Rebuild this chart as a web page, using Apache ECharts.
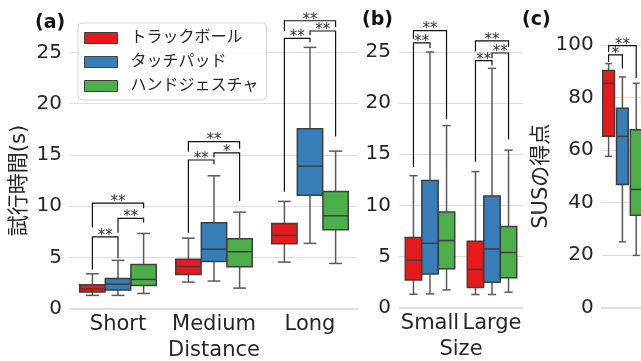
<!DOCTYPE html>
<html><head><meta charset="utf-8">
<script src="https://cdn.jsdelivr.net/npm/echarts@6/dist/echarts.min.js"></script>
<style>html,body{margin:0;padding:0;background:#fff}#c{width:641px;height:361px}</style>
</head><body><div id="c"></div>
<script>
// ---------- data ----------
const devices = ['トラックボール', 'タッチパッド', 'ハンドジェスチャ'];
const distanceCats = ['Short', 'Medium', 'Long'];
const sizeCats = ['Small', 'Large'];
const susCats = [''];
const timeTicks = [0, 5, 10, 15, 20, 25];
const susTicks = [0, 20, 40, 60, 80, 100];
// each box: [whiskerLow, Q1, median, Q3, whiskerHigh]
const distTrackball = [[1.28, 1.6, 1.9, 2.32, 3.39], [2.58, 3.33, 4.1, 4.8, 6.87], [4.53, 6.32, 7.14, 8.31, 10.46]];
const distTouchpad  = [[1.28, 1.8, 2.38, 2.93, 4.7], [2.68, 4.6, 5.8, 8.37, 12.96], [6.36, 11.07, 13.9, 17.55, 25.5]];
const distGesture   = [[1.47, 2.25, 2.84, 4.3, 7.33], [1.99, 4.07, 5.54, 6.81, 9.41], [4.4, 7.7, 9.05, 11.43, 15.37]];
const sizeTrackball = [[1.3, 2.7, 4.63, 6.85, 12.9], [1.27, 1.96, 3.72, 6.48, 13.3]];
const sizeTouchpad  = [[1.33, 3.29, 6.29, 12.42, 25.0], [1.27, 2.47, 5.73, 10.92, 23.4]];
const sizeGesture   = [[1.72, 3.78, 6.55, 9.35, 17.8], [1.5, 2.9, 5.38, 7.92, 15.39]];
const susTrackball  = [[57.6, 65.2, 85.4, 90.3, 92.9]];
const susTouchpad   = [[25.1, 46.9, 65.2, 75.9, 87.8]];
const susGesture    = [[19.9, 35.2, 45.0, 67.7, 85.4]];
// significance brackets: [category, fromDevice, toDevice, barLevel, leftLegEnd, rightLegEnd]
const distBrackets = [
  [0, 0, 1, 7.0, 3.8, 4.9], [0, 1, 2, 8.8, 7.4, 8.4], [0, 0, 2, 10.3, 7.9, 9.8],
  [1, 0, 1, 14.5, 7.4, 14.1], [1, 1, 2, 15.2, 14.75, 10.5], [1, 0, 2, 16.3, 15.3, 15.6],
  [2, 0, 1, 26.37, 11.4, 26.0], [2, 1, 2, 27.1, 26.7, 16.8], [2, 0, 2, 28.1, 27.1, 27.5]
];
const distMarks = ['**', '**', '**', '**', '*', '**', '**', '**', '**'];
const sizeBrackets = [
  [0, 0, 1, 25.9, 13.75, 25.4], [0, 0, 2, 27.1, 26.3, 18.45],
  [1, 0, 1, 24.15, 14.25, 23.67], [1, 1, 2, 24.9, 24.4, 16.43], [1, 0, 2, 26.08, 25.04, 25.5]
];
const sizeMarks = ['**', '**', '**', '**', '**'];
const susBrackets = [[0, 0, 1, 96.2, 93.5, 91.0], [0, 0, 2, 99.7, 97.3, 87.4]];
const susMarks = ['*', '**'];

// ---------- style ----------
const FONT = '"DejaVu Sans", "Noto Sans CJK JP", sans-serif';
const colors = ['#e41a1c', '#377eb8', '#4daf4a'];
const EDGE = '#3f3f3f';
const WHISK = '#5a5a5a';
const TXT = '#262626';

function boxRenderer(hue, stepFrac, widthFrac) {
  return function (params, api) {
    const cat = api.value(0);
    const band = api.size([1, 0])[0];
    const step = band * stepFrac;
    const cx = api.coord([cat, 0])[0] + (hue - 1) * step;
    const w = step * widthFrac;
    const cap = step * 0.5;
    const y = [1, 2, 3, 4, 5].map(d => api.coord([cat, api.value(d)])[1]);
    const ws = { stroke: WHISK, lineWidth: 1.5 };
    return {
      type: 'group', children: [
        { type: 'line', shape: { x1: cx, y1: y[3], x2: cx, y2: y[4] }, style: ws },
        { type: 'line', shape: { x1: cx, y1: y[1], x2: cx, y2: y[0] }, style: ws },
        { type: 'line', shape: { x1: cx - cap / 2, y1: y[4], x2: cx + cap / 2, y2: y[4] }, style: ws },
        { type: 'line', shape: { x1: cx - cap / 2, y1: y[0], x2: cx + cap / 2, y2: y[0] }, style: ws },
        { type: 'rect', shape: { x: cx - w / 2, y: y[3], width: w, height: y[1] - y[3] },
          style: { fill: colors[hue], stroke: EDGE, lineWidth: 1.5 } },
        { type: 'line', shape: { x1: cx - w / 2, y1: y[2], x2: cx + w / 2, y2: y[2] },
          style: { stroke: EDGE, lineWidth: 1.5 } }
      ]
    };
  };
}

function bracketRenderer(stepFrac, marks) {
  return function (params, api) {
    const cat = api.value(0);
    const band = api.size([1, 0])[0];
    const step = band * stepFrac;
    const base = api.coord([cat, 0])[0];
    const x1 = base + (api.value(1) - 1) * step;
    const x2 = base + (api.value(2) - 1) * step;
    const yl = api.coord([cat, api.value(3)])[1];
    const y1 = api.coord([cat, api.value(4)])[1];
    const y2 = api.coord([cat, api.value(5)])[1];
    return {
      type: 'group', children: [
        { type: 'polyline', shape: { points: [[x1, y1], [x1, yl], [x2, yl], [x2, y2]] },
          style: { stroke: '#111', lineWidth: 1.2, fill: null } },
        { type: 'text', style: { text: marks[params.dataIndex], x: (x1 + x2) / 2, y: yl - 1,
          align: 'center', verticalAlign: 'middle', fontSize: 15, fontFamily: FONT, fill: '#333' } }
      ]
    };
  };
}

function withIndex(arr) { return arr.map((d, i) => [i].concat(d)); }

const grids = [
  { left: 70, top: 52.5, width: 288, height: 256, outerBoundsMode: 'none', containLabel: false },
  { left: 399, top: 52, width: 124, height: 255.5, outerBoundsMode: 'none', containLabel: false },
  { left: 601.7, top: 44.9, width: 41.4, height: 262.8, outerBoundsMode: 'none', containLabel: false }
];

function yAxis(idx, ticks, name, gap) {
  return {
    type: 'value', gridIndex: idx, min: ticks[0], max: ticks[ticks.length - 1],
    interval: ticks[1] - ticks[0],
    axisLine: { show: false }, axisTick: { show: false },
    splitLine: { lineStyle: { color: '#dedede', width: 1 } },
    axisLabel: { fontSize: 20, color: TXT, fontFamily: FONT, margin: 8 },
    name: name, nameLocation: 'middle', nameGap: gap, nameRotate: 90,
    nameTextStyle: { fontSize: 21, color: TXT, fontFamily: FONT }
  };
}
function xAxis(idx, cats, name) {
  return {
    type: 'category', gridIndex: idx, data: cats,
    axisLine: { show: true, lineStyle: { color: '#d9d9d9', width: 1.5 } },
    axisTick: { show: false },
    axisLabel: { fontSize: 21, color: TXT, fontFamily: FONT, margin: 6, interval: 0 },
    name: name, nameLocation: 'middle', nameGap: 32,
    nameTextStyle: { fontSize: 21, color: TXT, fontFamily: FONT }
  };
}

const series = [];
const panels = [
  { grid: 0, sets: [distTrackball, distTouchpad, distGesture], step: 0.8 / 3, wf: 0.99, br: distBrackets, marks: distMarks },
  { grid: 1, sets: [sizeTrackball, sizeTouchpad, sizeGesture], step: 0.8 / 3, wf: 0.99, br: sizeBrackets, marks: sizeMarks },
  { grid: 2, sets: [susTrackball, susTouchpad, susGesture], step: 1 / 3, wf: 0.85, br: susBrackets, marks: susMarks }
];
panels.forEach(p => {
  p.sets.forEach((set, h) => {
    series.push({
      type: 'custom', name: devices[h], xAxisIndex: p.grid, yAxisIndex: p.grid,
      itemStyle: { color: colors[h] }, silent: true, clip: false,
      renderItem: boxRenderer(h, p.step, p.wf), data: withIndex(set), z: 2
    });
  });
  series.push({
    type: 'custom', name: 'sig' + p.grid, xAxisIndex: p.grid, yAxisIndex: p.grid,
    silent: true, clip: false, renderItem: bracketRenderer(p.step, p.marks), data: p.br, z: 3
  });
});

const chart = echarts.init(document.getElementById('c'));
chart.setOption({
  animation: false,
  textStyle: { fontFamily: FONT },
  grid: grids,
  xAxis: [xAxis(0, distanceCats, 'Distance'), xAxis(1, sizeCats, 'Size'), xAxis(2, susCats, '')],
  yAxis: [yAxis(0, timeTicks, '試行時間(s)', 40), yAxis(1, timeTicks, '', 40), yAxis(2, susTicks, 'SUSの得点', 44)],
  legend: {
    data: devices, orient: 'vertical', left: 78, top: 23, z: 10,
    backgroundColor: 'rgba(255,255,255,0.85)', borderColor: '#d6d6d6', borderWidth: 1, borderRadius: 4,
    padding: [7, 8, 6, 6], itemGap: 8, icon: 'rect', itemWidth: 33, itemHeight: 11,
    itemStyle: { borderColor: EDGE, borderWidth: 1 },
    textStyle: { fontSize: 16, color: TXT, fontFamily: FONT, padding: [0, 0, 0, 8] }
  },
  graphic: [
    { type: 'text', left: 35, top: 14, style: { text: '(a)', fontSize: 19, fontWeight: 'bold', fontFamily: FONT, fill: '#111' } },
    { type: 'text', left: 362, top: 11, style: { text: '(b)', fontSize: 19, fontWeight: 'bold', fontFamily: FONT, fill: '#111' } },
    { type: 'text', left: 522, top: 11, style: { text: '(c)', fontSize: 19, fontWeight: 'bold', fontFamily: FONT, fill: '#111' } }
  ],
  series: series
});
</script></body></html>
